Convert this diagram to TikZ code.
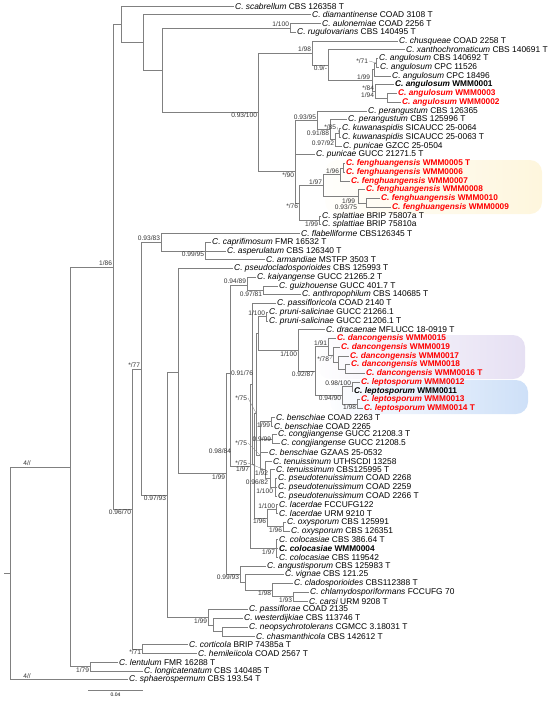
\documentclass[tikz,border=0pt]{standalone}
\usepackage{fontspec}
\setmainfont{Liberation Sans}
\usetikzlibrary{positioning}
\definecolor{treegray}{HTML}{808080}
\definecolor{newred}{HTML}{FF0000}
\definecolor{hlyellow}{HTML}{FEF6DD}
\definecolor{hlpurple}{HTML}{E6E0F3}
\definecolor{hlblue}{HTML}{CEE0F8}
\newcommand{\taxon}[2]{\textit{C. #1} #2}

\begin{document}
\begin{tikzpicture}[x=1pt, y=-1pt,
  branch/.style={draw=treegray, line width=0.7pt},
  leaf/.style={anchor=west, inner sep=1pt, font=\fontsize{8.4}{9}\selectfont},
  newleaf/.style={leaf, text=newred, font=\fontsize{8.3}{9}\selectfont\bfseries},
  ourleaf/.style={leaf, font=\fontsize{8.3}{9}\selectfont\bfseries},
  bs/.style={inner sep=0.8pt, font=\fontsize{6.6}{7}\selectfont, text=black!80},
  lead/.style={draw=treegray, line width=0.3pt},
  hl/.style={rounded corners=12pt},
]
  \useasboundingbox (0,0) rectangle (550,702);

  % highlighted new species
  \shade[hl, left color=hlyellow!10, right color=hlyellow] (325,160) rectangle (542,214);
  \shade[hl, left color=hlpurple!5, right color=hlpurple] (318,335) rectangle (525,379);
  \shade[hl, left color=hlblue!5, right color=hlblue] (330,380) rectangle (528,414);

  % internal nodes
  \coordinate (stub) at (4,573);
  \coordinate (root) at (10,573);
  \coordinate (nA)   at (70,467);
  \coordinate (nLen) at (90,666.6);
  \coordinate (n86)  at (113,267);
  \coordinate (n121) at (121,24.5);
  \coordinate (n143) at (143,42.4);
  \coordinate (n162) at (162,70);
  \coordinate (n290) at (290,27.9);
  \coordinate (n258) at (258,112);
  \coordinate (n312) at (312,53);
  \coordinate (n328) at (328,65);
  \coordinate (nang) at (372,80.4);
  \coordinate (na1b) at (374,69.4);
  \coordinate (na1)  at (376,62.9);
  \coordinate (na2)  at (375,91.3);
  \coordinate (na3)  at (387,97.9);
  \coordinate (n90)  at (295,171.5);
  \coordinate (n95)  at (317,120.3);
  \coordinate (n88)  at (330,129.6);
  \coordinate (n92)  at (335,139.4);
  \coordinate (n85)  at (339,132.9);
  \coordinate (n76)  at (299,203.2);
  \coordinate (n97)  at (323,185.4);
  \coordinate (nfeA) at (340,174.4);
  \coordinate (n96)  at (343,167.9);
  \coordinate (n99f) at (358,196.3);
  \coordinate (n75)  at (366,202.9);
  \coordinate (nspl) at (319,220.4);
  \coordinate (n70)  at (132,509);
  \coordinate (n71)  at (142,649.1);
  \coordinate (n77)  at (141,369);
  \coordinate (n83)  at (161,242);
  \coordinate (n95b) at (205,251);
  \coordinate (n93)  at (167,495);
  \coordinate (n99p) at (208,617.4);
  \coordinate (nwes) at (213,625);
  \coordinate (nnc)  at (222,631.6);
  \coordinate (n178) at (178,372);
  \coordinate (n199) at (226,473.5);
  \coordinate (n9993) at (240,574);
  \coordinate (nvig) at (245,582.4);
  \coordinate (n98)  at (272,590);
  \coordinate (n93c) at (293,596.6);
  \coordinate (nQ)   at (230,373);
  \coordinate (n89)  at (247,285);
  \coordinate (n81)  at (263,290.4);
  \coordinate (nR)   at (250,466);
  \coordinate (nT)   at (252,384);
  \coordinate (nU)   at (254,464.5);
  \coordinate (nS)   at (256,413);
  \coordinate (nW)   at (258,333.5);
  \coordinate (npru) at (266,316.6);
  \coordinate (n100) at (298,350.4);
  \coordinate (n87)  at (315,371);
  \coordinate (nDan) at (328,346.7);
  \coordinate (nD2)  at (333,354.9);
  \coordinate (nD3)  at (338,362.6);
  \coordinate (nD4)  at (345,369.1);
  \coordinate (nLep) at (342,395.2);
  \coordinate (nL1)  at (352,386.6);
  \coordinate (nL2)  at (357,404.1);
  \coordinate (nBC)  at (260,455);
  \coordinate (nBen1) at (271,421.6);
  \coordinate (nCong) at (272,439.1);
  \coordinate (nTen) at (265,469.8);
  \coordinate (nTP)  at (270,478.5);
  \coordinate (nPse) at (275,487.25);
  \coordinate (n96a) at (267,518);
  \coordinate (nLac) at (276,509.1);
  \coordinate (nOxy) at (283,526.6);
  \coordinate (nCol) at (276,548.5);

  % taxa
  \node[leaf] (scab) at (234,6)      {\taxon{scabrellum}{CBS 126358 T}};
  \node[leaf] (diam) at (311,14.75)  {\taxon{diamantinense}{COAD 3108 T}};
  \node[leaf] (aulo) at (321,23.5)   {\taxon{aulonemiae}{COAD 2256 T}};
  \node[leaf] (rugu) at (296,32.25)  {\taxon{rugulovarians}{CBS 140495 T}};
  \node[leaf] (chus) at (398,41)     {\taxon{chusqueae}{COAD 2258 T}};
  \node[leaf] (xant) at (405,49.75)  {\taxon{xanthochromaticum}{CBS 140691 T}};
  \node[leaf] (ang1) at (378,58.5)   {\taxon{angulosum}{CBS 140692 T}};
  \node[leaf] (ang2) at (379,67.25)  {\taxon{angulosum}{CPC 11526}};
  \node[leaf] (ang3) at (391,76)     {\taxon{angulosum}{CPC 18496}};
  \node[ourleaf] (ang4) at (394,84.75) {\taxon{angulosum}{WMM0001}};
  \node[newleaf] (ang5) at (397,93.5)  {\taxon{angulosum}{WMM0003}};
  \node[newleaf] (ang6) at (401,102.25) {\taxon{angulosum}{WMM0002}};
  \node[leaf] (per1) at (367,111)    {\taxon{perangustum}{CBS 126365}};
  \node[leaf] (per2) at (347,119.75) {\taxon{perangustum}{CBS 125996 T}};
  \node[leaf] (kuw1) at (341,128.5)  {\taxon{kuwanaspidis}{SICAUCC 25-0064}};
  \node[leaf] (kuw2) at (341,137.25) {\taxon{kuwanaspidis}{SICAUCC 25-0063 T}};
  \node[leaf] (pun1) at (342,146)    {\taxon{punicae}{GZCC 25-0504}};
  \node[leaf] (pun2) at (315,154.75) {\taxon{punicae}{GUCC 21271.5 T}};
  \node[newleaf] (fen5) at (345,163.5)  {\taxon{fenghuangensis}{WMM0005 T}};
  \node[newleaf] (fen6) at (345,172.25) {\taxon{fenghuangensis}{WMM0006}};
  \node[newleaf] (fen7) at (350,181)    {\taxon{fenghuangensis}{WMM0007}};
  \node[newleaf] (fen8) at (365,189.75) {\taxon{fenghuangensis}{WMM0008}};
  \node[newleaf] (fen10) at (380,198.5) {\taxon{fenghuangensis}{WMM0010}};
  \node[newleaf] (fen9) at (391,207.25) {\taxon{fenghuangensis}{WMM0009}};
  \node[leaf] (spl1) at (321,216)    {\taxon{splattiae}{BRIP 75807a T}};
  \node[leaf] (spl2) at (321,224.75) {\taxon{splattiae}{BRIP 75810a}};
  \node[leaf] (flab) at (300,233.5)  {\taxon{flabelliforme}{CBS126345 T}};
  \node[leaf] (capr) at (211,242.25) {\taxon{caprifimosum}{FMR 16532 T}};
  \node[leaf] (aspe) at (226,251)    {\taxon{asperulatum}{CBS 126340 T}};
  \node[leaf] (arma) at (265,259.75) {\taxon{armandiae}{MSTFP 3503 T}};
  \node[leaf] (pscl) at (233,268.5)  {\taxon{pseudocladosporioides}{CBS 125993 T}};
  \node[leaf] (kaiy) at (256,277.25) {\taxon{kaiyangense}{GUCC 21265.2 T}};
  \node[leaf] (guiz) at (278,286)    {\taxon{guizhouense}{GUCC 401.7 T}};
  \node[leaf] (anth) at (301,294.75) {\taxon{anthropophilum}{CBS 140685 T}};
  \node[leaf] (pasc) at (276,303.5)  {\taxon{passifloricola}{COAD 2140 T}};
  \node[leaf] (pru1) at (268,312.25) {\taxon{pruni-salicinae}{GUCC 21266.1}};
  \node[leaf] (pru2) at (268,321)    {\taxon{pruni-salicinae}{GUCC 21206.1 T}};
  \node[leaf] (drac) at (325,329.75) {\taxon{dracaenae}{MFLUCC 18-0919 T}};
  \node[newleaf] (dan15) at (336,338.5)  {\taxon{dancongensis}{WMM0015}};
  \node[newleaf] (dan19) at (340,347.25) {\taxon{dancongensis}{WMM0019}};
  \node[newleaf] (dan17) at (349,356)    {\taxon{dancongensis}{WMM0017}};
  \node[newleaf] (dan18) at (350,364.75) {\taxon{dancongensis}{WMM0018}};
  \node[newleaf] (dan16) at (365,373.5)  {\taxon{dancongensis}{WMM0016 T}};
  \node[newleaf] (lep12) at (360,382.25) {\taxon{leptosporum}{WMM0012}};
  \node[ourleaf] (lep11) at (353,391)    {\taxon{leptosporum}{WMM0011}};
  \node[newleaf] (lep13) at (360,399.75) {\taxon{leptosporum}{WMM0013}};
  \node[newleaf] (lep14) at (363,408.5)  {\taxon{leptosporum}{WMM0014 T}};
  \node[leaf] (ben1) at (275,417.25) {\taxon{benschiae}{COAD 2263 T}};
  \node[leaf] (ben2) at (273,426)    {\taxon{benschiae}{COAD 2265}};
  \node[leaf] (con1) at (277,434.75) {\taxon{congjiangense}{GUCC 21208.3 T}};
  \node[leaf] (con2) at (280,443.5)  {\taxon{congjiangense}{GUCC 21208.5}};
  \node[leaf] (ben3) at (268,452.25) {\taxon{benschiae}{GZAAS 25-0532}};
  \node[leaf] (ten1) at (272,461)    {\taxon{tenuissimum}{UTHSCDI 13258}};
  \node[leaf] (ten2) at (275,469.75) {\taxon{tenuissimum}{CBS125995 T}};
  \node[leaf] (pst1) at (277,478.5)  {\taxon{pseudotenuissimum}{COAD 2268}};
  \node[leaf] (pst2) at (277,487.25) {\taxon{pseudotenuissimum}{COAD 2259}};
  \node[leaf] (pst3) at (277,496)    {\taxon{pseudotenuissimum}{COAD 2266 T}};
  \node[leaf] (lac1) at (278,504.75) {\taxon{lacerdae}{FCCUFG122}};
  \node[leaf] (lac2) at (278,513.5)  {\taxon{lacerdae}{URM 9210 T}};
  \node[leaf] (oxy1) at (286,522.25) {\taxon{oxysporum}{CBS 125991}};
  \node[leaf] (oxy2) at (290,531)    {\taxon{oxysporum}{CBS 126351}};
  \node[leaf] (col1) at (278,539.75) {\taxon{colocasiae}{CBS 386.64 T}};
  \node[ourleaf] (col2) at (278,548.5) {\taxon{colocasiae}{WMM0004}};
  \node[leaf] (col3) at (278,557.25) {\taxon{colocasiae}{CBS 119542}};
  \node[leaf] (angu) at (266,566)    {\taxon{angustisporum}{CBS 125983 T}};
  \node[leaf] (vign) at (284,574.75) {\taxon{vignae}{CBS 121.25}};
  \node[leaf] (clad) at (293,583.5)  {\taxon{cladosporioides}{CBS112388 T}};
  \node[leaf] (chla) at (309,592.25) {\taxon{chlamydosporiformans}{FCCUFG 70}};
  \node[leaf] (cars) at (308,601)    {\taxon{carsi}{URM 9208 T}};
  \node[leaf] (pasf) at (248,609.75) {\taxon{passiflorae}{COAD 2135}};
  \node[leaf] (west) at (243,618.5)  {\taxon{westerdijkiae}{CBS 113746 T}};
  \node[leaf] (neop) at (248,627.25) {\taxon{neopsychrotolerans}{CGMCC 3.18031 T}};
  \node[leaf] (chas) at (255,636)    {\taxon{chasmanthicola}{CBS 142612 T}};
  \node[leaf] (cort) at (188,644.75) {\taxon{corticola}{BRIP 74385a T}};
  \node[leaf] (hemi) at (197,653.5)  {\taxon{hemileiicola}{COAD 2567 T}};
  \node[leaf] (lent) at (118,662.25) {\taxon{lentulum}{FMR 16288 T}};
  \node[leaf] (long) at (143,671)    {\taxon{longicatenatum}{CBS 140485 T}};
  \node[leaf] (spha) at (128,679.75) {\taxon{sphaerospermum}{CBS 193.54 T}};

  % branches
  \draw[branch] (stub) -- (root);
  \foreach \pnode/\cnode in {root/nA, root/spha, nA/n86, nA/nLen, nLen/lent, nLen/long,
      n86/n121, n86/n70, n121/scab, n121/n143, n143/diam, n143/n162,
      n162/n290, n162/n258, n290/aulo, n290/rugu, n258/n312, n258/n90,
      n312/chus, n312/n328, n328/xant, n328/nang, nang/na1b, nang/na2,
      na1b/na1, na1b/ang3, na1/ang1, na1/ang2, na2/ang4, na2/na3, na3/ang5, na3/ang6,
      n90/n95, n90/pun2, n90/n76, n95/per1, n95/n88, n88/per2, n88/n92,
      n92/n85, n92/pun1, n85/kuw1, n85/kuw2, n76/n97, n76/nspl,
      n97/nfeA, n97/n99f, nfeA/n96, nfeA/fen7, n96/fen5, n96/fen6,
      n99f/fen8, n99f/n75, n75/fen10, n75/fen9, nspl/spl1, nspl/spl2,
      n70/n77, n70/n71, n71/cort, n71/hemi, n77/n83, n77/n93,
      n83/flab, n83/n95b, n95b/capr, n95b/aspe, n95b/arma,
      n93/n178, n93/n99p, n99p/pasf, n99p/nwes, nwes/west, nwes/nnc, nnc/neop, nnc/chas,
      n178/pscl, n178/n199, n199/nQ, n199/n9993, n9993/angu, n9993/nvig,
      nvig/vign, nvig/n98, n98/clad, n98/n93c, n93c/chla, n93c/cars,
      nQ/n89, nQ/nR, n89/kaiy, n89/n81, n81/guiz, n81/anth,
      nR/nT, nR/nCol, nT/pasc, nT/nU, nU/nS, nU/n96a, nS/nW, nS/nBC,
      nW/npru, nW/n100, npru/pru1, npru/pru2, n100/drac, n100/n87,
      n87/nDan, n87/nLep, nDan/dan15, nDan/nD2, nD2/dan19, nD2/nD3,
      nD3/dan17, nD3/nD4, nD4/dan18, nD4/dan16,
      nLep/nL1, nLep/nL2, nL1/lep12, nL1/lep11, nL2/lep13, nL2/lep14,
      nBC/nBen1, nBC/nCong, nBC/ben3, nBC/nTen, nBen1/ben1, nBen1/ben2,
      nCong/con1, nCong/con2, nTen/ten1, nTen/nTP, nTP/ten2, nTP/nPse,
      nPse/pst1, nPse/pst2, nPse/pst3, n96a/nLac, n96a/nOxy,
      nLac/lac1, nLac/lac2, nOxy/oxy1, nOxy/oxy2,
      nCol/col1, nCol/col2, nCol/col3}
    \draw[branch] (\pnode) |- (\cnode);

  % support values
  \node[bs, above left] at (n290) {1/100};
  \node[bs, above left] at (n312) {1/98};
  \node[bs, below left] at (n328) {0.9/-};
  \node[bs, anchor=east] (s71) at (369,61) {*/71};
  \draw[lead] (s71.east) -- (na1);
  \node[bs, anchor=east] at (371,77.5) {1/99};
  \node[bs, above left] at (na2) {*/84};
  \node[bs, below left] at (na2) {1/94};
  \node[bs, below left] at (n258) {0.93/100};
  \node[bs, above left] at (n95) {0.93/95};
  \node[bs, anchor=east] (s85) at (337,127) {*/85};
  \draw[lead] (s85.east) -- (n85);
  \node[bs, below left] at (n88) {0.91/88};
  \node[bs, below left] at (n92) {0.97/92};
  \node[bs, below left] at (n90) {*/90};
  \node[bs, above left] at (nfeA) {1/96};
  \node[bs, above left] at (n97) {1/97};
  \node[bs, anchor=east] at (356,201) {1/99};
  \node[bs, anchor=east] at (358,207) {0.93/75};
  \node[bs, below left] at (n76) {*/76};
  \node[bs, below left] at (nspl) {1/99};
  \node[bs, above left] at (n83) {0.93/83};
  \node[bs, below left] at (n95b) {0.99/95};
  \node[bs, above left] at (n86) {1/86};
  \node[bs, above left] at (n77) {*/77};
  \node[bs, below left] at (n93) {0.97/93};
  \node[bs, below left] at (n70) {0.96/70};
  \node[bs, above left] at (n89) {0.94/89};
  \node[bs, below left] at (n81) {0.97/81};
  \node[bs, above left] at (npru) {1/100};
  \node[bs, below left] at (n100) {1/100};
  \node[bs, above left] at (nDan) {1/91};
  \node[bs, anchor=east] (s78) at (330,359) {*/78};
  \draw[lead] (s78.east) -- (nD2);
  \node[bs, below left] at (n87) {0.92/87};
  \node[bs, above left] at (nL1) {0.98/100};
  \node[bs, below left] at (nLep) {0.94/90};
  \node[bs, below left] at (nL2) {1/98};
  \node[bs, anchor=west] at (nQ) {0.91/76};
  \node[bs, anchor=east] (s75a) at (248,398) {*/75};
  \draw[lead] (s75a.east) -- (nS);
  \node[bs, below left] at (nBen1) {1/99};
  \node[bs, left] at (nCong) {0.9/99};
  \node[bs, anchor=east] (s75b) at (248,443) {*/75};
  \draw[lead] (s75b.east) -- (nBC);
  \node[bs, anchor=east] at (232,451) {0.98/84};
  \node[bs, anchor=east] (s75c) at (248,463) {*/75};
  \draw[lead] (s75c.east) -- (nTen);
  \node[bs, anchor=east] at (269,473) {1/92};
  \node[bs, anchor=east] at (269,482) {0.96/82};
  \node[bs, anchor=east] at (274,491) {1/100};
  \node[bs, above left] at (nLac) {1/100};
  \node[bs, below left] at (n96a) {1/96};
  \node[bs, below left] at (nOxy) {1/96};
  \node[bs, below left] at (nCol) {1/97};
  \node[bs, below left] at (nR) {1/97};
  \node[bs, below left] at (n199) {1/99};
  \node[bs, below left] at (n9993) {0.99/93};
  \node[bs, below left] at (n98) {1/98};
  \node[bs, below left] at (n93c) {1/93};
  \node[bs, below left] at (n99p) {1/99};
  \node[bs, below left] at (n71) {*/71};
  \node[bs, below left] at (nLen) {1/79};
  \node[bs, above] at (27,467) {4//};
  \node[bs, above] at (27,679.75) {4//};

  % scale bar
  \coordinate (sbl) at (88,690);
  \coordinate (sbr) at (143,690);
  \draw[branch] (sbl) -- (sbr) node[midway, below=3pt, inner sep=0pt, font=\fontsize{5}{6}\selectfont] {0.04};
\end{tikzpicture}
\end{document}
